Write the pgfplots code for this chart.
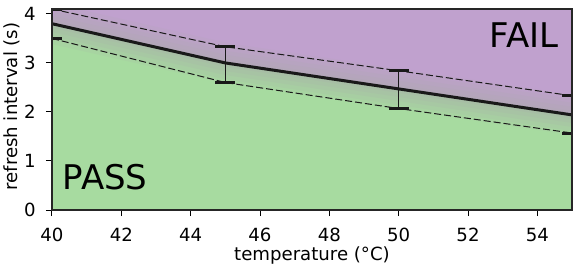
\documentclass[border=0pt]{standalone}
\usepackage{fontspec}
\setmainfont{DejaVu Sans}
\usepackage{pgfplots}
\pgfplotsset{compat=1.18}
\usepgfplotslibrary{fillbetween}
\definecolor{failc}{RGB}{192,161,206}
\definecolor{passc}{RGB}{167,219,160}
\definecolor{bandc}{RGB}{172,172,172}
\begin{document}
\begin{tikzpicture}
\begin{axis}[
 at={(0,0)}, anchor=south west,
 scale only axis, width=390pt, height=150.75pt,
 xmin=40, xmax=55, ymin=0, ymax=4.1,
 xtick={40,42,...,54}, ytick={0,1,2,3,4},
 xtick pos=bottom, ytick pos=left,
 tick align=outside, major tick length=4.5pt,
 tick style={black, line width=0.75pt},
 axis line style={line width=1pt, black!85},
 tick label style={font=\fontsize{13.6}{16}\selectfont},
 xticklabel style={yshift=-5.5pt},
 yticklabel style={xshift=-4.3pt},
 label style={font=\fontsize{13.6}{16}\selectfont},
 /pgf/number format/assume math mode=true,
 axis background/.style={fill=failc},
 axis on top,
 xlabel={temperature (°C)}, ylabel={refresh interval (s)},
 xlabel style={at={(axis description cs:0.5,-0.252)}, anchor=base},
 ylabel style={at={(axis description cs:-0.0769,0.515)}, anchor=center},
]
\addplot[draw=none, name path=main, forget plot] coordinates {(40,3.8)(45,3.0)(50,2.47)(55,1.94)};
\addplot[draw=none, name path=base, forget plot] coordinates {(40,0)(55,0)};
\addplot[passc, forget plot] fill between[of=main and base];
\addplot[bandc, line width=30pt, opacity=0.13, line join=round, forget plot] coordinates {(40,3.8)(45,3.0)(50,2.47)(55,1.94)};
\addplot[bandc, line width=24pt, opacity=0.14, line join=round, forget plot] coordinates {(40,3.8)(45,3.0)(50,2.47)(55,1.94)};
\addplot[bandc, line width=18pt, opacity=0.15, line join=round, forget plot] coordinates {(40,3.8)(45,3.0)(50,2.47)(55,1.94)};
\addplot[bandc, line width=12pt, opacity=0.16, line join=round, forget plot] coordinates {(40,3.8)(45,3.0)(50,2.47)(55,1.94)};
\addplot[bandc, line width=6pt, opacity=0.18, line join=round, forget plot] coordinates {(40,3.8)(45,3.0)(50,2.47)(55,1.94)};
\addplot[black!90, line width=0.75pt, dash pattern=on 5.25pt off 2.25pt, forget plot] coordinates {(40,4.1)(45,3.33)(50,2.84)(55,2.33)};
\addplot[black!90, line width=0.75pt, dash pattern=on 5.25pt off 2.25pt, forget plot] coordinates {(40,3.5)(45,2.6)(50,2.07)(55,1.57)};
\addplot[black!90, line width=2.25pt, line join=round, mark=none, forget plot,
  error bars/.cd, y dir=both, y explicit,
  error bar style={line width=1.1pt, black!90},
  error mark options={rotate=90, line width=2.25pt, mark size=7.5pt, black!90}]
 coordinates {(40,3.8) += (0,0.3) -= (0,0.3)
              (45,3.0) += (0,0.33) -= (0,0.4)
              (50,2.47) += (0,0.37) -= (0,0.4)
              (55,1.94) += (0,0.39) -= (0,0.37)};
\node[anchor=base west, inner sep=0pt, font=\fontsize{25.5}{30}\selectfont] at (axis cs:40.3,0.41) {PASS};
\node[anchor=base east, inner sep=0pt, font=\fontsize{25.5}{30}\selectfont] at (axis cs:54.62,3.32) {FAIL};
\end{axis}
\pgfresetboundingbox
\useasboundingbox (-39pt,-45.75pt) rectangle (396.75pt,157.5pt);
\end{tikzpicture}
\end{document}
